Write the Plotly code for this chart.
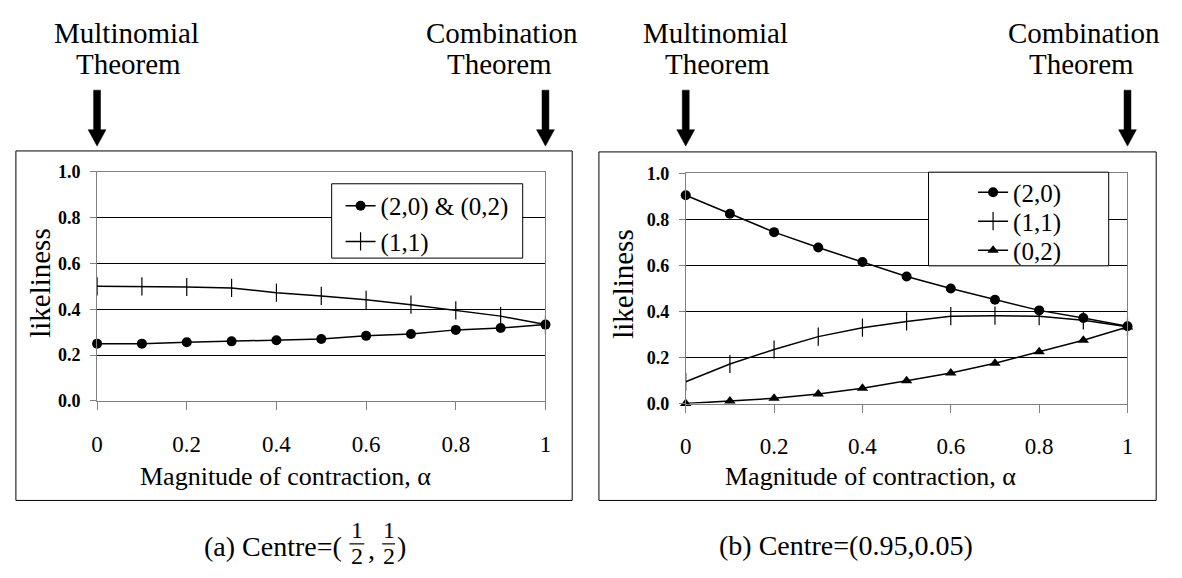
import plotly.graph_objects as go

W, H = 1182, 578

# ---------------- data ----------------
alpha = [0.0, 0.1, 0.2, 0.3, 0.4, 0.5, 0.6, 0.7, 0.8, 0.9, 1.0]
# panel (a) Centre=(1/2,1/2)
a_20_02 = [0.25, 0.25, 0.256, 0.26, 0.265, 0.27, 0.284, 0.292, 0.31, 0.318, 0.333]
a_11 = [0.5, 0.5, 0.497, 0.493, 0.472, 0.458, 0.441, 0.42, 0.395, 0.37, 0.333]
# panel (b) Centre=(0.95,0.05)
b_20 = [0.905, 0.825, 0.745, 0.678, 0.615, 0.552, 0.5, 0.451, 0.405, 0.372, 0.336]
b_11 = [0.095, 0.172, 0.235, 0.291, 0.33, 0.357, 0.38, 0.382, 0.38, 0.362, 0.334]
b_02 = [0.0, 0.011, 0.023, 0.042, 0.067, 0.099, 0.133, 0.175, 0.225, 0.275, 0.333]

x_ticks = [0, 0.2, 0.4, 0.6, 0.8, 1.0]
x_ticktext = ["0", "0.2", "0.4", "0.6", "0.8", "1"]
y_ticks = [0, 0.2, 0.4, 0.6, 0.8, 1.0]
y_ticktext = ["0.0", "0.2", "0.4", "0.6", "0.8", "1.0"]

FONT = "Liberation Serif"


def X(px):
    return px / W


def Y(py):
    return 1 - py / H


# plot-area geometry (pixels)
L_X0, L_X1, L_Y0, L_Y1 = 92, 545, 405, 167.4
R_X0, R_X1, R_Y0, R_Y1 = 686.7, 1133, 407.7, 169.3

fig = go.Figure()

line_style = dict(color="black", width=1.5)
dot = dict(symbol="circle", size=10, color="black")
cross = dict(symbol="line-ns", size=13, color="black", line=dict(color="black", width=1.2))
tri = dict(symbol="triangle-up", size=10, color="black")

fig.add_trace(go.Scatter(x=alpha, y=a_20_02, mode="lines+markers", name="(2,0) &amp; (0,2)",
                         line=line_style, marker=dot, cliponaxis=False,
                         xaxis="x", yaxis="y", legend="legend"))
fig.add_trace(go.Scatter(x=alpha, y=a_11, mode="lines+markers", name="(1,1)",
                         line=line_style, marker=cross, cliponaxis=False,
                         xaxis="x", yaxis="y", legend="legend2"))
fig.add_trace(go.Scatter(x=alpha, y=b_20, mode="lines+markers", name="(2,0)",
                         line=line_style, marker=dot, cliponaxis=False,
                         xaxis="x2", yaxis="y2", legend="legend3"))
fig.add_trace(go.Scatter(x=alpha, y=b_11, mode="lines+markers", name="(1,1)",
                         line=line_style, marker=cross, cliponaxis=False,
                         xaxis="x2", yaxis="y2", legend="legend4"))
fig.add_trace(go.Scatter(x=alpha, y=b_02, mode="lines+markers", name="(0,2)",
                         line=line_style, marker=tri, cliponaxis=False,
                         xaxis="x2", yaxis="y2", legend="legend5"))

xax = dict(range=[0, 1], tickvals=x_ticks, ticktext=x_ticktext, showgrid=False,
           zeroline=False, showline=True, linecolor="#808080", linewidth=1, mirror=True,
           ticks="outside", ticklen=8, tickcolor="#808080", tickwidth=1,
           ticklabelstandoff=14,
           tickfont=dict(family=FONT, size=23, color="black"))
yax = dict(range=[0, 1], tickvals=y_ticks, ticktext=y_ticktext, showgrid=True,
           gridcolor="black", gridwidth=1, zeroline=False, showline=True,
           linecolor="#808080", linewidth=1, mirror=True,
           ticks="outside", ticklen=6, tickcolor="#808080", tickwidth=1,
           ticklabelstandoff=6,
           tickfont=dict(family=FONT, size=18, color="black", weight="bold"))

leg_common = dict(bgcolor="rgba(0,0,0,0)", borderwidth=0, xanchor="left", yanchor="middle",
                  font=dict(family=FONT, size=25, color="black"))

layout = dict(
    width=W, height=H, margin=dict(l=0, r=0, t=0, b=0),
    paper_bgcolor="white", plot_bgcolor="white", showlegend=True,
    font=dict(family=FONT, color="black"),
    xaxis=dict(xax, domain=[X(L_X0), X(L_X1)], anchor="y"),
    yaxis=dict(yax, domain=[Y(L_Y0), Y(L_Y1)], anchor="x"),
    xaxis2=dict(xax, domain=[X(R_X0), X(R_X1)], anchor="y2"),
    yaxis2=dict(yax, domain=[Y(R_Y0), Y(R_Y1)], anchor="x2"),
    legend=dict(leg_common, x=X(338), y=Y(203)),
    legend2=dict(leg_common, x=X(338), y=Y(240)),
    legend3=dict(leg_common, x=X(977), y=Y(189)),
    legend4=dict(leg_common, x=X(977), y=Y(219)),
    legend5=dict(leg_common, x=X(977), y=Y(249)),
)
fig.update_layout(**layout)

shapes = []
# panel frames
for (x0, y0, x1, y1) in [(10, 146, 572, 508), (599, 147, 1162, 508)]:
    shapes.append(dict(type="rect", xref="paper", yref="paper", x0=X(x0), x1=X(x1),
                       y0=Y(y1), y1=Y(y0), line=dict(color="black", width=1),
                       fillcolor="rgba(0,0,0,0)", layer="below"))
# legend boxes
for (x0, y0, x1, y1) in [(329, 180, 522, 257), (932, 168, 1114, 265)]:
    shapes.append(dict(type="rect", xref="paper", yref="paper", x0=X(x0), x1=X(x1),
                       y0=Y(y1), y1=Y(y0), line=dict(color="black", width=1),
                       fillcolor="white", layer="above"))


def arrow(ax):
    pts = [(ax - 3.5, 83), (ax + 3.5, 83), (ax + 3.5, 124), (ax + 9, 124), (ax, 141),
           (ax - 9, 124), (ax - 3.5, 124)]
    p = "M " + " L ".join(f"{X(a):.6f},{Y(b):.6f}" for a, b in pts) + " Z"
    return dict(type="path", xref="paper", yref="paper", path=p,
                fillcolor="black", line=dict(color="black", width=0.5))


for ax in [L_X0, L_X1, R_X0, R_X1]:
    shapes.append(arrow(ax))

# fraction bars for caption (a)
for (x0, x1) in [(347, 362), (380, 393)]:
    shapes.append(dict(type="line", xref="paper", yref="paper", x0=X(x0), x1=X(x1),
                       y0=Y(553), y1=Y(553), line=dict(color="black", width=1.2)))

fig.update_layout(shapes=shapes)

ann = []


def txt(t, x, y, size, xanchor="center", yanchor="middle", angle=0, weight="normal"):
    ann.append(dict(text=t, x=X(x), y=Y(y), xref="paper", yref="paper", showarrow=False,
                    xanchor=xanchor, yanchor=yanchor, textangle=angle,
                    font=dict(family=FONT, size=size, color="black", weight=weight)))


# headers
for cx in [L_X0 + 30, R_X0 + 30]:
    txt("Multinomial", cx, 24, 29)
    txt("Theorem", cx + 2, 56, 29)
for cx in [L_X1 - 44, R_X1 - 44]:
    txt("Combination", cx, 24, 29)
    txt("Theorem", cx - 2, 56, 29)

# axis titles
txt("likeliness", 35, 283, 29, angle=-90)
txt("likeliness", 623, 284, 29, angle=-90)
txt("Magnitude of contraction, α", 282, 483, 26)
txt("Magnitude of contraction, α", 873, 483, 26)

# captions
txt("(a) Centre=(", 341, 556, 28, xanchor="right")
txt("1", 354.5, 539, 24)
txt("2", 354.5, 566, 24)
txt(",", 369, 559, 28)
txt("1", 386.5, 539, 24)
txt("2", 386.5, 566, 24)
txt(")", 400, 556, 28)
txt("(b) Centre=(0.95,0.05)", 849, 555, 28)

fig.update_layout(annotations=ann)

fig.write_html("out.html", config={"displayModeBar": False},
               post_script="document.body.style.margin='0';document.body.style.overflow='hidden';")
